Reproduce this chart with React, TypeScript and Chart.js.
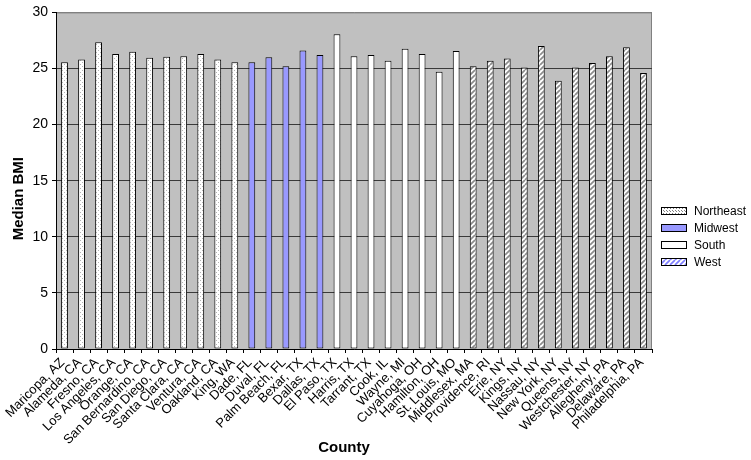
import React, { useEffect, useRef } from 'react';
import { Chart, registerables } from 'chart.js';

Chart.register(...registerables);

// ---- data ----
const northeastCounties = ['Maricopa, AZ', 'Alameda, CA', 'Fresno, CA', 'Los Angeles, CA', 'Orange, CA', 'San Bernardino, CA', 'San Diego, CA', 'Santa Clara, CA', 'Ventura, CA', 'Oakland, CA', 'King, WA'];
const northeastBMI = [25.55, 25.8, 27.35, 26.3, 26.5, 25.95, 26.05, 26.1, 26.3, 25.8, 25.55];
const midwestCounties = ['Dade, FL', 'Duval, FL', 'Palm Beach, FL', 'Bexar, TX', 'Dallas, TX'];
const midwestBMI = [25.55, 26.0, 25.2, 26.6, 26.2];
const southCounties = ['El Paso, TX', 'Harris, TX', 'Tarrant, TX', 'Cook, IL', 'Wayne, MI', 'Cuyahoga, OH', 'Hamilton, OH', 'St. Louis, MO'];
const southBMI = [28.05, 26.1, 26.2, 25.7, 26.75, 26.3, 24.7, 26.55];
const westCounties = ['Middlesex, MA', 'Providence, RI', 'Erie, NY', 'Kings, NY', 'Nassau, NY', 'New York, NY', 'Queens, NY', 'Westchester, NY', 'Allegheny, PA', 'Delaware, PA', 'Philadelphia, PA'];
const westBMI = [25.2, 25.7, 25.9, 25.1, 27.0, 23.9, 25.1, 25.5, 26.1, 26.9, 24.6];
const regionNames = ['Northeast', 'Midwest', 'South', 'West'];
const yTickValues = [0, 5, 10, 15, 20, 25, 30];
const yTitle = 'Median BMI';
const xTitle = 'County';

const FONT = "'Liberation Sans', Arial, Helvetica, sans-serif";

function dotPattern(dot: string, step: number): CanvasPattern {
  const c = document.createElement('canvas');
  c.width = step;
  c.height = step;
  const g = c.getContext('2d')!;
  g.fillStyle = '#ffffff';
  g.fillRect(0, 0, step, step);
  g.fillStyle = dot;
  g.fillRect(0, 0, 1, 1);
  g.fillRect(Math.floor(step / 2), Math.floor(step / 2), 1, 1);
  return g.createPattern(c, 'repeat')!;
}

function hatchPattern(line: string, size: number, width: number): CanvasPattern {
  const c = document.createElement('canvas');
  c.width = size;
  c.height = size;
  const g = c.getContext('2d')!;
  g.fillStyle = '#ffffff';
  g.fillRect(0, 0, size, size);
  g.strokeStyle = line;
  g.lineWidth = width;
  g.beginPath();
  for (const k of [-size, 0, size]) {
    g.moveTo(k, size);
    g.lineTo(k + size, 0);
  }
  g.stroke();
  return g.createPattern(c, 'repeat')!;
}

export default function App() {
  const canvasRef = useRef<HTMLCanvasElement | null>(null);

  useEffect(() => {
    const canvas = canvasRef.current;
    if (!canvas) return;

    const groups = [
      { counties: northeastCounties, values: northeastBMI },
      { counties: midwestCounties, values: midwestBMI },
      { counties: southCounties, values: southBMI },
      { counties: westCounties, values: westBMI },
    ];
    const categories = groups.flatMap((g) => g.counties);

    const barFills: (string | CanvasPattern)[] = [
      dotPattern('#b4b4b4', 4),
      '#9999ff',
      '#ffffff',
      hatchPattern('#8c8c8c', 5, 1.7),
    ];
    const legendFills: (string | CanvasPattern)[] = [
      dotPattern('#808080', 3),
      '#9999ff',
      '#ffffff',
      hatchPattern('#7f7fff', 5, 1.7),
    ];

    const datasets = groups.map((g, i) => ({
      label: regionNames[i],
      data: categories.map((c) => {
        const idx = g.counties.indexOf(c);
        return idx >= 0 ? g.values[idx] : null;
      }),
      backgroundColor: barFills[i] as any,
      borderColor: '#000000',
      borderWidth: 1,
      borderSkipped: false as any,
      skipNull: true,
      categoryPercentage: 1,
      barPercentage: 0.4,
    }));

    const decor = {
      id: 'decor',
      beforeDraw(chart: any) {
        const { ctx, chartArea: a } = chart;
        ctx.save();
        ctx.fillStyle = '#ffffff';
        ctx.fillRect(0, 0, chart.width, chart.height);
        ctx.fillStyle = '#c0c0c0';
        ctx.fillRect(a.left, a.top, a.right - a.left, a.bottom - a.top);
        ctx.strokeStyle = '#808080';
        ctx.lineWidth = 1;
        ctx.beginPath();
        ctx.moveTo(a.left, a.top + 0.5);
        ctx.lineTo(a.right - 0.5, a.top + 0.5);
        ctx.lineTo(a.right - 0.5, a.bottom);
        ctx.stroke();
        ctx.restore();
      },
      afterDraw(chart: any) {
        const { ctx, chartArea: a } = chart;
        ctx.save();
        ctx.fillStyle = '#000000';
        ctx.font = `bold 15px ${FONT}`;
        ctx.textAlign = 'center';
        ctx.textBaseline = 'middle';
        // y title
        ctx.save();
        ctx.translate(a.left - 37, (a.top + a.bottom) / 2 + 18);
        ctx.rotate(-Math.PI / 2);
        ctx.fillText(yTitle, 0, 0);
        ctx.restore();
        // x title
        ctx.fillText(xTitle, (a.left + a.right) / 2 - 10, a.bottom + 99);

        // legend
        ctx.font = `12px ${FONT}`;
        ctx.textAlign = 'left';
        const boxX = a.right + 9;
        const rowY0 = 211;
        chart.data.datasets.forEach((ds: any, i: number) => {
          const cy = rowY0 + i * 17;
          ctx.fillStyle = legendFills[i] as any;
          ctx.fillRect(boxX, cy - 3.5, 26, 7);
          ctx.strokeStyle = '#000000';
          ctx.lineWidth = 1;
          ctx.strokeRect(boxX + 0.5, cy - 3.5, 25, 7);
          ctx.fillStyle = '#000000';
          ctx.fillText(ds.label, boxX + 33, cy + 1);
        });
        ctx.restore();
      },
    };

    const chart = new Chart(canvas, {
      type: 'bar',
      data: { labels: categories, datasets: datasets as any },
      options: {
        animation: false,
        responsive: false,
        maintainAspectRatio: false,
        layout: { padding: { top: 9, right: 99, left: 0, bottom: 0 } },
        plugins: {
          legend: { display: false },
          tooltip: { enabled: false },
          title: { display: false },
        },
        scales: {
          x: {
            offset: true,
            grid: {
              display: true,
              offset: true,
              drawOnChartArea: false,
              drawTicks: true,
              tickLength: 4,
              tickColor: '#000000',
            },
            border: { display: true, color: '#000000', width: 1 },
            ticks: {
              autoSkip: false,
              maxRotation: 45,
              minRotation: 45,
              color: '#000000',
              padding: 2,
              labelOffset: -2,
              font: { family: FONT, size: 13 },
            },
            afterFit(scale: any) {
              scale.height = 111;
            },
          },
          y: {
            min: 0,
            max: 30,
            afterBuildTicks(scale: any) {
              scale.ticks = yTickValues.map((v) => ({ value: v }));
            },
            grid: {
              display: true,
              drawOnChartArea: true,
              drawTicks: true,
              tickLength: 4,
              tickColor: '#000000',
              color: (ctx: any) => (ctx.tick && ctx.tick.value === 30 ? '#808080' : '#3a3a3a'),
              lineWidth: 1,
            },
            border: { display: true, color: '#000000', width: 1 },
            ticks: {
              color: '#000000',
              padding: 4,
              font: { family: FONT, size: 14 },
            },
            afterFit(scale: any) {
              scale.width = 56;
            },
          },
        },
      },
      plugins: [decor],
    });

    return () => {
      chart.destroy();
    };
  }, []);

  return (
    <div style={{ position: 'fixed', left: 0, top: 0, width: 751, height: 460, background: '#fff' }}>
      <canvas ref={canvasRef} width={751} height={460} style={{ display: 'block', width: 751, height: 460 }} />
    </div>
  );
}
